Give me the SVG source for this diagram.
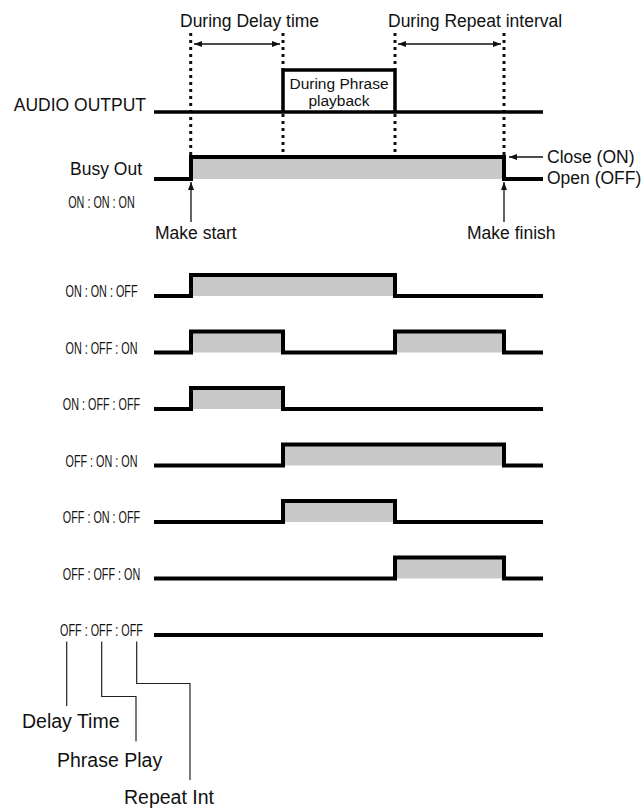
<svg xmlns="http://www.w3.org/2000/svg" width="644" height="808" viewBox="0 0 644 808">
<style>
text{font-family:"Liberation Sans",Arial,Helvetica,sans-serif;fill:#111}
.lbl{font-size:17.5px}
.big{font-size:19.5px}
.ph{font-size:15.5px}
.code{font-size:16.5px}
.sig{fill:none;stroke:#000;stroke-width:4;stroke-linejoin:miter;stroke-linecap:butt}
.box{fill:none;stroke:#000;stroke-width:3.5;stroke-linejoin:miter}
.fill{fill:#c8c8c8;stroke:none}
.dot{stroke:#111;stroke-width:3;stroke-dasharray:3 4;fill:none}
.thin{stroke:#222;stroke-width:1.2;fill:none}
.arr{stroke:#111;stroke-width:1.3;fill:none}
</style>
<defs>
<marker id="ah" viewBox="0 0 8 6" refX="8" refY="3" markerWidth="8" markerHeight="6" markerUnits="userSpaceOnUse" orient="auto-start-reverse"><path d="M0,0 L8,3 L0,6 z" fill="#111"/></marker>
</defs>

<g id="header">
<text class="lbl" x="180" y="27">During Delay time</text>
<text class="lbl" x="388" y="27">During Repeat interval</text>
</g>

<g id="guides">
<path class="dot" d="M190.7,33 V155"/>
<path class="dot" d="M283,33 V70 M283,114 V176"/>
<path class="dot" d="M395,33 V70 M395,114 V176"/>
<path class="dot" d="M504,33 V155"/>
</g>

<g id="audio-output">
<text class="lbl" x="146" y="111" text-anchor="end">AUDIO OUTPUT</text>
<path class="box" d="M154,112 H543"/>
<path class="box" d="M283,112 V70 H395 V112"/>
<text class="ph" x="339" y="88.5" text-anchor="middle">During Phrase</text>
<text class="ph" x="339" y="106" text-anchor="middle">playback</text>
</g>

<g id="busy-out">
<text class="lbl" x="142" y="175" text-anchor="end">Busy Out</text>
<rect class="fill" x="191" y="157" width="313" height="22"/>
<path class="sig" d="M154,179 H191 V157 H504 V179 H543"/>
<text class="lbl" x="547" y="163">Close (ON)</text>
<text class="lbl" x="547" y="184">Open (OFF)</text>
<text class="code" transform="translate(101.5,208) scale(0.655,1)" text-anchor="middle">ON : ON : ON</text>
<text class="lbl" x="155" y="239">Make start</text>
<text class="lbl" x="467" y="239">Make finish</text>
</g>

<g id="row-on-on-off">
<text class="code" transform="translate(101.5,297) scale(0.655,1)" text-anchor="middle">ON : ON : OFF</text>
<rect class="fill" x="191" y="275" width="204" height="21"/>
<path class="sig" d="M154,296 H191 V275 H395 V296 H543"/>
</g>

<g id="row-on-off-on">
<text class="code" transform="translate(101.5,353.5) scale(0.655,1)" text-anchor="middle">ON : OFF : ON</text>
<rect class="fill" x="191" y="331.5" width="92" height="21"/>
<rect class="fill" x="395" y="331.5" width="109" height="21"/>
<path class="sig" d="M154,352.5 H191 V331.5 H283 V352.5 H395 V331.5 H504 V352.5 H543"/>
</g>

<g id="row-on-off-off">
<text class="code" transform="translate(101.5,410) scale(0.655,1)" text-anchor="middle">ON : OFF : OFF</text>
<rect class="fill" x="191" y="388" width="92" height="21"/>
<path class="sig" d="M154,409 H191 V388 H283 V409 H543"/>
</g>

<g id="row-off-on-on">
<text class="code" transform="translate(101.5,466.5) scale(0.655,1)" text-anchor="middle">OFF : ON : ON</text>
<rect class="fill" x="283" y="444.5" width="221" height="21"/>
<path class="sig" d="M154,465.5 H283 V444.5 H504 V465.5 H543"/>
</g>

<g id="row-off-on-off">
<text class="code" transform="translate(101.5,523) scale(0.655,1)" text-anchor="middle">OFF : ON : OFF</text>
<rect class="fill" x="283" y="501" width="112" height="21"/>
<path class="sig" d="M154,522 H283 V501 H395 V522 H543"/>
</g>

<g id="row-off-off-on">
<text class="code" transform="translate(101.5,579.5) scale(0.655,1)" text-anchor="middle">OFF : OFF : ON</text>
<rect class="fill" x="395" y="557.5" width="109" height="21"/>
<path class="sig" d="M154,578.5 H395 V557.5 H504 V578.5 H543"/>
</g>

<g id="row-off-off-off">
<text class="code" transform="translate(101.5,636) scale(0.655,1)" text-anchor="middle">OFF : OFF : OFF</text>
<path class="sig" d="M154,635 H543"/>
</g>

<g id="legend">
<text class="big" x="22" y="728">Delay Time</text>
<text class="big" x="57" y="767">Phrase Play</text>
<text class="big" x="124" y="804">Repeat Int</text>
</g>

<g id="connectors">
<path class="arr" d="M194,44 H280" marker-start="url(#ah)" marker-end="url(#ah)"/>
<path class="arr" d="M398,44 H501" marker-start="url(#ah)" marker-end="url(#ah)"/>
<path class="arr" d="M543,157 H509" marker-end="url(#ah)"/>
<path class="arr" d="M191,222 V182" marker-end="url(#ah)"/>
<path class="arr" d="M504,222 V182" marker-end="url(#ah)"/>
<path class="thin" d="M66.7,641.5 V706"/>
<path class="thin" d="M101.7,641.5 V696.5 H136 V741.5"/>
<path class="thin" d="M136.7,641.5 V683.5 H190 V780"/>
</g>
</svg>
